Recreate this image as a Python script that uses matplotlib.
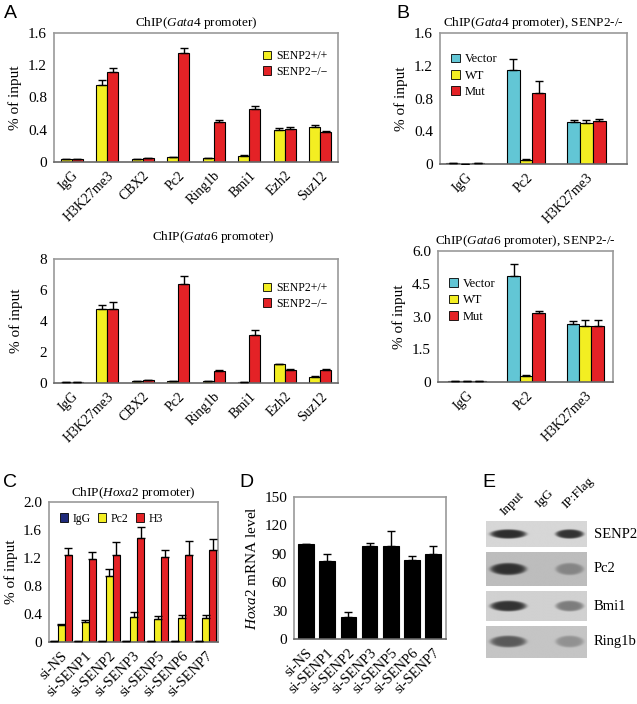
import numpy as np
import matplotlib
matplotlib.use("Agg")
import matplotlib.pyplot as plt
from matplotlib.patches import Patch

# ---------------------------------------------------
# Data
# ---------------------------------------------------
a_cats = ["IgG", "H3K27me3", "CBX2", "Pc2", "Ring1b", "Bmi1", "Ezh2", "Suz12"]
gata4_wt = [0.04, 0.95, 0.04, 0.06, 0.05, 0.08, 0.40, 0.43]
gata4_wt_err = [0.0, 0.07, 0.0, 0.0, 0.0, 0.01, 0.02, 0.035]
gata4_ko = [0.04, 1.12, 0.05, 1.35, 0.50, 0.66, 0.41, 0.37]
gata4_ko_err = [0.0, 0.05, 0.0, 0.06, 0.02, 0.035, 0.02, 0.02]

gata6_wt = [0.05, 4.78, 0.10, 0.10, 0.15, 0.05, 1.21, 0.39]
gata6_wt_err = [0.0, 0.24, 0.0, 0.0, 0.0, 0.0, 0.04, 0.06]
gata6_ko = [0.05, 4.80, 0.22, 6.36, 0.80, 3.11, 0.86, 0.86]
gata6_ko_err = [0.0, 0.45, 0.0, 0.56, 0.04, 0.29, 0.03, 0.04]

b_cats = ["IgG", "Pc2", "H3K27me3"]
b4_vec = [0.01, 1.15, 0.51]
b4_vec_err = [0.0, 0.13, 0.03]
b4_wt = [0.0, 0.05, 0.505]
b4_wt_err = [0.0, 0.01, 0.035]
b4_mut = [0.01, 0.87, 0.53]
b4_mut_err = [0.0, 0.14, 0.025]

b6_vec = [0.03, 4.85, 2.67]
b6_vec_err = [0.0, 0.54, 0.12]
b6_wt = [0.06, 0.26, 2.55]
b6_wt_err = [0.0, 0.04, 0.30]
b6_mut = [0.03, 3.14, 2.55]
b6_mut_err = [0.0, 0.10, 0.30]

si_cats = ["si-NS", "si-SENP1", "si-SENP2", "si-SENP3", "si-SENP5", "si-SENP6", "si-SENP7"]
c_igg = [0.01, 0.01, 0.01, 0.01, 0.01, 0.01, 0.01]
c_pc2 = [0.24, 0.29, 0.94, 0.36, 0.33, 0.34, 0.34]
c_pc2_err = [0.02, 0.03, 0.11, 0.07, 0.04, 0.04, 0.04]
c_h3 = [1.25, 1.18, 1.25, 1.49, 1.22, 1.25, 1.31]
c_h3_err = [0.10, 0.10, 0.18, 0.16, 0.10, 0.20, 0.16]

d_mrna = [100.3, 82.0, 23.7, 97.9, 97.9, 83.4, 89.4]
d_mrna_err = [0.0, 8.0, 4.6, 3.1, 15.9, 3.9, 9.2]

e_lanes = ["Input", "IgG", "IP:Flag"]
e_proteins = ["SENP2", "Pc2", "Bmi1", "Ring1b"]
e_band = {  # band darkness per lane
    "SENP2": [0.66, 0.0, 0.64],
    "Pc2": [0.55, 0.0, 0.22],
    "Bmi1": [0.62, 0.0, 0.33],
    "Ring1b": [0.42, 0.0, 0.20],
}
e_background = [0.84, 0.74, 0.82, 0.77]

# ---------------------------------------------------
# Style
# ---------------------------------------------------
plt.rcParams["font.family"] = ["Liberation Serif", "DejaVu Serif"]
plt.rcParams["mathtext.fontset"] = "custom"
plt.rcParams["mathtext.rm"] = "Liberation Serif"
plt.rcParams["mathtext.it"] = "Liberation Serif:italic"

YELLOW = "#f3ee22"
RED = "#e42226"
CYAN = "#62c6d5"
NAVY = "#1f2a7a"
SPINE = "#9a9a9a"

W, H = 637, 704
fig = plt.figure(figsize=(W / 100, H / 100), dpi=100)


def ax_px(l, t, r, b):
    return fig.add_axes([l / W, 1 - b / H, (r - l) / W, (b - t) / H])


def style(ax, ymax, yticks, ylabels, cats, tick_fs=11, cat_fs=10):
    ax.set_ylim(0, ymax)
    ax.set_yticks(yticks)
    ax.set_yticklabels(ylabels, fontsize=tick_fs)
    ax.tick_params(length=0, pad=5)
    for s in ax.spines.values():
        s.set_color(SPINE)
        s.set_linewidth(1.2)
    ax.spines["bottom"].set_color("#666666")
    ax.set_xticks(range(len(cats)))
    ax.set_xticklabels(cats, rotation=45, ha="right", rotation_mode="anchor",
                       fontsize=cat_fs)


def bars(ax, x, vals, errs, color, width):
    ax.bar(x, vals, width, color=color, edgecolor="black", linewidth=0.8,
           zorder=2)
    lo = np.zeros(len(vals))
    ax.errorbar(x, vals, yerr=[lo, errs], fmt="none", ecolor="black",
                elinewidth=1.0, capsize=3, capthick=1.0, zorder=3)


def legend(ax, labels, colors, fs=8.5, **kw):
    handles = [Patch(facecolor=c, edgecolor="black", linewidth=0.6)
               for c in colors]
    ax.legend(handles, labels, frameon=False, fontsize=fs, handlelength=0.7,
              handleheight=0.7, handletextpad=0.4, **kw)


# ---------------------------------------------------
# Panel A
# ---------------------------------------------------
x = np.arange(len(a_cats))
w = 0.31
ax = ax_px(54, 33, 338, 162)
bars(ax, x - w / 2, gata4_wt, gata4_wt_err, YELLOW, w)
bars(ax, x + w / 2, gata4_ko, gata4_ko_err, RED, w)
ax.set_xlim(-0.5, 7.5)
style(ax, 1.6, [0, 0.4, 0.8, 1.2, 1.6], ["0", "0.4", "0.8", "1.2", "1.6"], a_cats)
ax.set_ylabel("% of input", fontsize=11, labelpad=4)
ax.set_title(r"ChIP($\mathit{Gata4}$ promoter)", fontsize=9.5, pad=5)
legend(ax, ["SENP2+/+", "SENP2\u2212/\u2212"], [YELLOW, RED], loc="upper right",
       bbox_to_anchor=(1.0, 0.95), labelspacing=0.3)

ax = ax_px(54, 259, 338, 383)
bars(ax, x - w / 2, gata6_wt, gata6_wt_err, YELLOW, w)
bars(ax, x + w / 2, gata6_ko, gata6_ko_err, RED, w)
ax.set_xlim(-0.5, 7.5)
style(ax, 8, [0, 2, 4, 6, 8], ["0", "2", "4", "6", "8"], a_cats)
ax.set_ylabel("% of input", fontsize=11, labelpad=12)
ax.set_title(r"ChIP($\mathit{Gata6}$ promoter)", fontsize=9.5, pad=14, x=0.56)
legend(ax, ["SENP2+/+", "SENP2\u2212/\u2212"], [YELLOW, RED], loc="upper right",
       bbox_to_anchor=(1.0, 0.9), labelspacing=0.3)

# ---------------------------------------------------
# Panel B
# ---------------------------------------------------
xb = np.arange(len(b_cats))
wb = 0.21
ax = ax_px(440, 33, 627, 164)
bars(ax, xb - wb, b4_vec, b4_vec_err, CYAN, wb)
bars(ax, xb, b4_wt, b4_wt_err, YELLOW, wb)
bars(ax, xb + wb, b4_mut, b4_mut_err, RED, wb)
ax.set_xlim(-0.42, 2.67)
style(ax, 1.6, [0, 0.4, 0.8, 1.2, 1.6], ["0", "0.4", "0.8", "1.2", "1.6"], b_cats)
ax.set_ylabel("% of input", fontsize=11, labelpad=4)
ax.set_title(r"ChIP($\mathit{Gata4}$ promoter), SENP2-/-", fontsize=9.5, pad=5)
legend(ax, ["Vector", "WT", "Mut"], [CYAN, YELLOW, RED], loc="upper left",
       bbox_to_anchor=(0.0, 0.93), labelspacing=0.35, fs=9)

ax = ax_px(438, 251, 613, 382)
bars(ax, xb - wb, b6_vec, b6_vec_err, CYAN, wb)
bars(ax, xb, b6_wt, b6_wt_err, YELLOW, wb)
bars(ax, xb + wb, b6_mut, b6_mut_err, RED, wb)
ax.set_xlim(-0.49, 2.47)
style(ax, 6, [0, 1.5, 3, 4.5, 6], ["0", "1.5", "3.0", "4.5", "6.0"], b_cats)
ax.set_ylabel("% of input", fontsize=11, labelpad=4)
ax.set_title(r"ChIP($\mathit{Gata6}$ promoter), SENP2-/-", fontsize=9.5, pad=5)
legend(ax, ["Vector", "WT", "Mut"], [CYAN, YELLOW, RED], loc="upper left",
       bbox_to_anchor=(0.0, 0.88), labelspacing=0.35, fs=9)

# ---------------------------------------------------
# Panel C
# ---------------------------------------------------
xc = np.arange(len(si_cats))
wc = 0.29
ax = ax_px(49, 502, 218, 642)
bars(ax, xc - wc, c_igg, np.zeros(7), NAVY, wc)
bars(ax, xc, c_pc2, c_pc2_err, YELLOW, wc)
bars(ax, xc + wc, c_h3, c_h3_err, RED, wc)
ax.set_xlim(-0.5, 6.5)
style(ax, 2.0, [0, 0.4, 0.8, 1.2, 1.6, 2.0],
      ["0", "0.4", "0.8", "1.2", "1.6", "2.0"], si_cats, cat_fs=10.5)
ax.set_ylabel("% of input", fontsize=11, labelpad=4)
ax.set_title(r"ChIP($\mathit{Hoxa2}$ promoter)", fontsize=9.5, pad=4)
legend(ax, ["IgG", "Pc2", "H3"], [NAVY, YELLOW, RED], loc="upper left",
       bbox_to_anchor=(0.0, 1.0), ncol=3, columnspacing=0.6)

# ---------------------------------------------------
# Panel D
# ---------------------------------------------------
xd = np.arange(len(si_cats))
ax = ax_px(294, 497, 446, 639)
bars(ax, xd, d_mrna, d_mrna_err, "black", 0.74)
ax.set_xlim(-0.57, 6.61)
style(ax, 150, [0, 30, 60, 90, 120, 150],
      ["0", "30", "60", "90", "120", "150"], si_cats, cat_fs=10.5)
ax.set_ylabel(r"$\mathit{Hoxa2}$ mRNA level", fontsize=11, labelpad=4)

# ---------------------------------------------------
# Panel E (western blot strips)
# ---------------------------------------------------
lane_centers = [0.22, 0.49, 0.83]
lane_halfwidth = [0.18, 0.10, 0.14]
strips = [(521, 547), (552, 586), (591, 621), (626, 658)]
xs = np.linspace(0, 1, 240)
for i, prot in enumerate(e_proteins):
    t, b = strips[i]
    ys = np.linspace(-1, 1, 80)
    X, Y = np.meshgrid(xs, ys)
    img = np.full_like(X, e_background[i])
    for c, hw, d in zip(lane_centers, lane_halfwidth, e_band[prot]):
        r = ((X - c) / hw) ** 2 + (Y / 0.36) ** 2
        img -= d * np.exp(-r ** 4)
    bax = ax_px(486, t, 587, b)
    bax.imshow(img, cmap="gray", vmin=0, vmax=1, aspect="auto",
               extent=[0, 1, 0, 1])
    bax.set_xticks([])
    bax.set_yticks([])
    for s in bax.spines.values():
        s.set_visible(False)
    fig.text(594 / W, 1 - (t + b) / 2 / H, prot, fontsize=10.5, va="center",
             ha="left")

for name, (lx, ly) in zip(e_lanes, [(504, 516), (539, 508), (566, 509)]):
    fig.text(lx / W, 1 - ly / H, name, fontsize=9.5, rotation=45,
             rotation_mode="anchor", ha="left", va="baseline")

# ---------------------------------------------------
# Panel letters
# ---------------------------------------------------
for letter, (px, py) in {"A": (4, 18), "B": (396, 18), "C": (3, 487),
                         "D": (239, 487), "E": (482, 487)}.items():
    fig.text(px / W, 1 - py / H, letter, fontsize=14,
             family=["Liberation Sans", "DejaVu Sans"], va="baseline")

fig.savefig("out.png", dpi=100)
